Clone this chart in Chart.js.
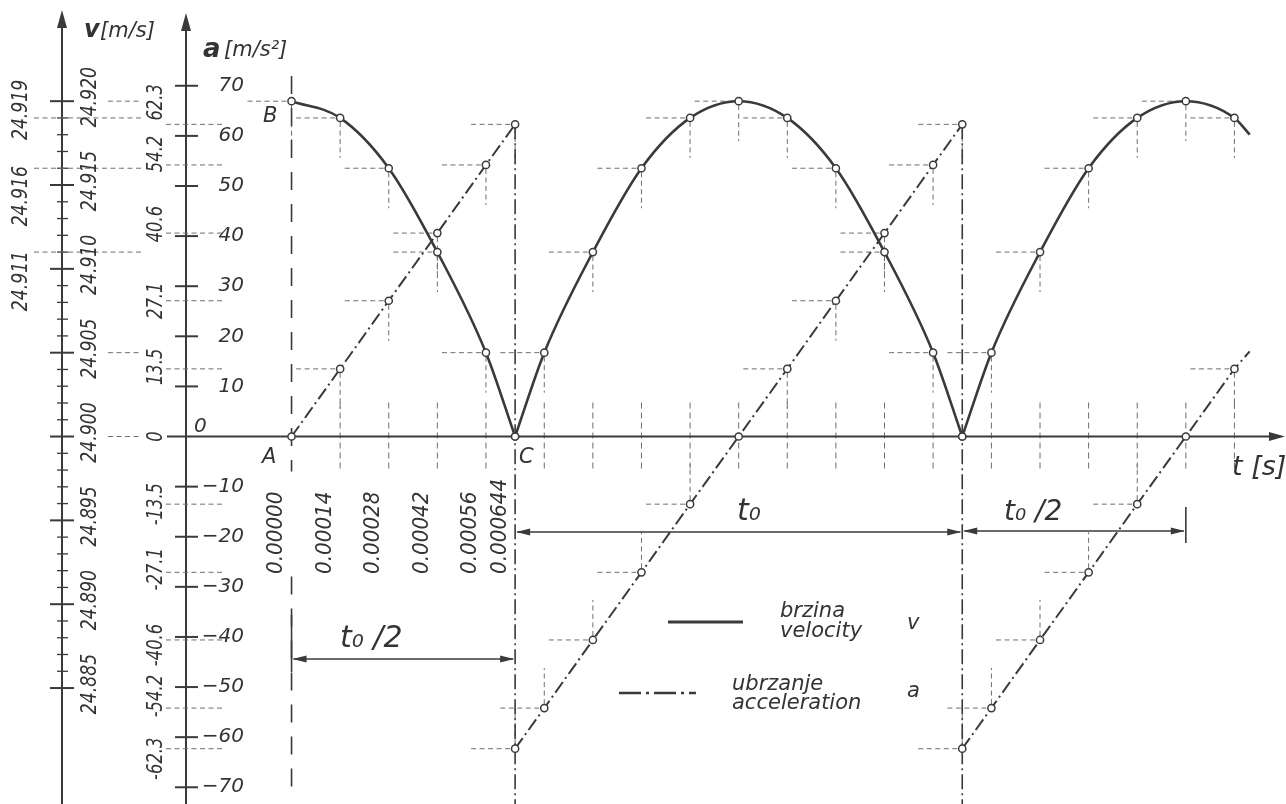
<!DOCTYPE html>
<html>
<head>
<meta charset="utf-8">
<script src="https://cdn.jsdelivr.net/npm/chart.js@4.4.1/dist/chart.umd.min.js"></script>
<style>
  html, body { margin: 0; padding: 0; background: #fff; }
  #wrap { width: 1286px; height: 804px; }
</style>
</head>
<body>
<div id="wrap"><canvas id="chart" width="1286" height="804"></canvas></div>
<script>
// vrijeme [s] - tocke ocitane s crteza
const tHalf = [0.00000, 0.00014, 0.00028, 0.00042, 0.00056, 0.000644];
const tPeriod = [0.000644, 0.000728, 0.000868, 0.001008, 0.001148, 0.001288,
                 0.001428, 0.001568, 0.001708, 0.001848, 0.001932];
const tNext = [0.001932, 0.002016, 0.002156, 0.002296, 0.002436, 0.002576, 0.002716, 0.00276];

// brzina v [m/s]
const vHalf = [24.920, 24.919, 24.916, 24.911, 24.905, 24.900];
const vPeriod = [24.900, 24.905, 24.911, 24.916, 24.919, 24.920, 24.919, 24.916, 24.911, 24.905, 24.900];
const vNext = [24.900, 24.905, 24.911, 24.916, 24.919, 24.920, 24.919, 24.918];

// ubrzanje a [m/s2]
const aHalf = [0, 13.5, 27.1, 40.6, 54.2, 62.3];
const aPeriod = [-62.3, -54.2, -40.6, -27.1, -13.5, 0, 13.5, 27.1, 40.6, 54.2, 62.3];
const aNext = [-62.3, -54.2, -40.6, -27.1, -13.5, 0, 13.5, 17.0];

// oznake osi
const tLabels = ['0.00000', '0.00014', '0.00028', '0.00042', '0.00056', '0.000644'];
const vTicks = [24.920, 24.915, 24.910, 24.905, 24.900, 24.895, 24.890, 24.885];
const vMarked = [24.919, 24.916, 24.911];
const aTicks = [70, 60, 50, 40, 30, 20, 10, -10, -20, -30, -40, -50, -60, -70];
const aMarked = [62.3, 54.2, 40.6, 27.1, 13.5, 0, -13.5, -27.1, -40.6, -54.2, -62.3];

const INK = '#3a3a3a';
const GUIDE = '#6e6e6e';
const TEXT = '#333';

const pts = (ts, ys) => ts.map((t, i) => ({ x: t, y: ys[i] }));

function seg(ctx, x1, y1, x2, y2, w, dash, color) {
    ctx.save();
    ctx.strokeStyle = color || INK;
    ctx.lineWidth = w;
    ctx.setLineDash(dash || []);
    ctx.beginPath();
    ctx.moveTo(x1, y1);
    ctx.lineTo(x2, y2);
    ctx.stroke();
    ctx.restore();
}

// vrh strelice u (x,y), smjer (dx,dy)
function arrow(ctx, x, y, dx, dy, len, half) {
    ctx.save();
    ctx.fillStyle = INK;
    ctx.beginPath();
    ctx.moveTo(x, y);
    ctx.lineTo(x - dx * len - dy * half, y - dy * len + dx * half);
    ctx.lineTo(x - dx * len + dy * half, y - dy * len - dx * half);
    ctx.closePath();
    ctx.fill();
    ctx.restore();
}

function label(ctx, s, x, y, o) {
    ctx.save();
    ctx.translate(x, y);
    if (o.rot) ctx.rotate(-Math.PI / 2);
    ctx.scale(o.squeeze || 1, 1);
    ctx.font = (o.weight || '') + ' italic ' + o.size + 'px "DejaVu Sans", sans-serif';
    ctx.fillStyle = TEXT;
    ctx.textAlign = o.align || 'left';
    ctx.textBaseline = o.baseline || 'alphabetic';
    ctx.fillText(s, 0, 0);
    ctx.restore();
}

const vAxisX = 62;
const aAxisX = 186;

const drawing = {
    id: 'drawing',
    beforeDatasetsDraw(chart) {
        const ctx = chart.ctx;
        const X = t => chart.scales.x.getPixelForValue(t);
        const A = a => chart.scales.a.getPixelForValue(a);
        const V = v => chart.scales.v.getPixelForValue(v);
        const y0 = A(0);

        // pomocne crtkane linije uz tocke
        chart.data.datasets.forEach((ds, i) => {
            const meta = chart.getDatasetMeta(i);
            meta.data.forEach((el, j) => {
                if (j === ds.data.length - 1 && ds.openEnd) return;
                if (Math.abs(el.y - y0) < 2) return;
                seg(ctx, el.x - 44, el.y, el.x - 4, el.y, 1, [5, 3.5], GUIDE);
                const dir = el.y < y0 ? 1 : -1;
                seg(ctx, el.x, el.y + 4 * dir, el.x, el.y + 40 * dir, 1, [5, 3.5], GUIDE);
            });
        });

        // crtice na osi t
        const all = [...tHalf, ...tPeriod, ...tNext.slice(0, -1)];
        const skip = [tHalf[0], tHalf[tHalf.length - 1], tPeriod[tPeriod.length - 1]];
        [...new Set(all)].filter(t => !skip.includes(t)).forEach(t => {
            seg(ctx, X(t), y0 - 34, X(t), y0 + 35, 1, [6, 4], GUIDE);
        });

        // okomica kroz A
        const xA = X(tHalf[0]);
        seg(ctx, xA, 76, xA, y0 + 35, 1.6, [18, 14]);
        seg(ctx, xA, y0 + 140, xA, 790, 1.6, [18, 14]);
        seg(ctx, xA, 615, xA, 672, 1.6);

        // okomice kroz C (skok ubrzanja)
        [tPeriod[0], tPeriod[tPeriod.length - 1]].forEach(t => {
            seg(ctx, X(t), A(62.3), X(t), 804, 1.6, [15, 4, 2, 4]);
        });

        // os t
        seg(ctx, 167, y0, 1272, y0, 2);
        // os v
        seg(ctx, vAxisX, 24, vAxisX, 804, 2);
        // os a
        seg(ctx, aAxisX, 26, aAxisX, 804, 2);

        // crtice osi v
        for (let k = 0; k <= 35; k++) {
            const v = 24.885 + k * 0.001;
            const y = V(v);
            const major = k % 5 === 0;
            seg(ctx, vAxisX - (major ? 12 : 5), y, vAxisX + (major ? 12 : 6), y, major ? 2 : 1.3);
        }
        // crtice osi a
        aTicks.forEach(a => seg(ctx, aAxisX - 11, A(a), aAxisX + 12, A(a), 2));

        // crtkane linije za vrijednosti
        vMarked.forEach(v => seg(ctx, 34, V(v), 142, V(v), 1, [5, 3.5], GUIDE));
        [24.920, 24.905, 24.900].forEach(v => seg(ctx, 108, V(v), 142, V(v), 1, [5, 3.5], GUIDE));
        aMarked.filter(a => a !== 0).forEach(a => seg(ctx, 166, A(a), 224, A(a), 1, [5, 3.5], GUIDE));
    },
    afterDatasetsDraw(chart) {
        const ctx = chart.ctx;
        const X = t => chart.scales.x.getPixelForValue(t);
        const A = a => chart.scales.a.getPixelForValue(a);
        const V = v => chart.scales.v.getPixelForValue(v);
        const y0 = A(0);

        // strelice osi
        arrow(ctx, 1285, y0, 1, 0, 16, 4.5);
        arrow(ctx, vAxisX, 10, 0, -1, 18, 5);
        arrow(ctx, aAxisX, 13, 0, -1, 18, 5);

        // nazivi osi
        label(ctx, 'v', 84, 37, { size: 24, weight: 'bold' });
        label(ctx, '[m/s]', 100, 37, { size: 21 });
        label(ctx, 'a', 203, 57, { size: 26, weight: 'bold' });
        label(ctx, '[m/s²]', 224, 56, { size: 21 });
        label(ctx, 't [s]', 1232, 475, { size: 27 });

        // oznake osi v
        vTicks.forEach(v => label(ctx, v.toFixed(3), 91, V(v) - 4,
            { size: 21, rot: true, align: 'center', baseline: 'middle', squeeze: 0.82 }));
        const vNudge = [-8, 28, 29];
        vMarked.forEach((v, i) => label(ctx, v.toFixed(3), 22, V(v) + vNudge[i],
            { size: 21, rot: true, align: 'center', baseline: 'middle', squeeze: 0.82 }));

        // oznake osi a
        aTicks.forEach(a => label(ctx, (a < 0 ? '−' : '') + Math.abs(a), 244, A(a),
            { size: 20, align: 'right', baseline: 'middle' }));
        label(ctx, '0', 194, 432, { size: 20 });
        const aNudge = [-22, -11, -9, 0, -2, 0, 0, -3, 5, -12, 10];
        aMarked.forEach((a, i) => label(ctx, (a < 0 ? '-' : '') + Math.abs(a), 157, A(a) + aNudge[i],
            { size: 21, rot: true, align: 'center', baseline: 'middle', squeeze: 0.78 }));

        // oznake vremena
        tLabels.forEach((s, i) => label(ctx, s, X(tHalf[i]) - 15, 574,
            { size: 21, rot: true, baseline: 'middle', squeeze: 0.95 }));

        // tocke A, B, C
        label(ctx, 'A', 262, 463, { size: 21 });
        label(ctx, 'B', 263, 122, { size: 21 });
        label(ctx, 'C', 519, 463, { size: 21 });

        // kotne linije
        const dim = (t1, t2, y) => {
            seg(ctx, X(t1) + 2, y, X(t2) - 2, y, 1.6);
            arrow(ctx, X(t1) + 1, y, -1, 0, 14, 3.5);
            arrow(ctx, X(t2) - 1, y, 1, 0, 14, 3.5);
        };
        dim(tHalf[0], tHalf[tHalf.length - 1], 659);
        dim(tPeriod[0], tPeriod[tPeriod.length - 1], 532);
        dim(tNext[0], tNext[5], 531);
        seg(ctx, X(tNext[5]), 507, X(tNext[5]), 543, 1.6);
        label(ctx, 't₀ /2', 340, 647, { size: 30 });
        label(ctx, 't₀', 737, 520, { size: 30 });
        label(ctx, 't₀ /2', 1004, 520, { size: 28 });

        // legenda
        seg(ctx, 668, 622, 743, 622, 3);
        seg(ctx, 619, 693, 696, 693, 2.6, [22, 5, 3, 5]);
        label(ctx, 'brzina', 780, 617, { size: 21 });
        label(ctx, 'velocity', 780, 637, { size: 21 });
        label(ctx, 'v', 907, 629, { size: 21 });
        label(ctx, 'ubrzanje', 732, 690, { size: 21 });
        label(ctx, 'acceleration', 732, 709, { size: 21 });
        label(ctx, 'a', 907, 697, { size: 21 });
    }
};

const lastHidden = n => ctx => (ctx.dataIndex === n - 1 ? 0 : 3.6);

const velocityStyle = {
    yAxisID: 'v',
    borderColor: INK,
    borderWidth: 2.6,
    cubicInterpolationMode: 'monotone',
    pointRadius: 3.6,
    pointBackgroundColor: '#fff',
    pointBorderColor: INK,
    pointBorderWidth: 1.5
};
const accelStyle = {
    yAxisID: 'a',
    borderColor: INK,
    borderWidth: 2,
    borderDash: [13, 4, 2, 4],
    tension: 0,
    pointRadius: 3.6,
    pointBackgroundColor: '#fff',
    pointBorderColor: INK,
    pointBorderWidth: 1.5
};

new Chart(document.getElementById('chart'), {
    type: 'line',
    data: {
        datasets: [
            { ...velocityStyle, label: 'brzina v', data: pts(tHalf, vHalf) },
            { ...velocityStyle, label: 'brzina v', data: pts(tPeriod, vPeriod) },
            { ...velocityStyle, label: 'brzina v', data: pts(tNext, vNext),
              openEnd: true, pointRadius: lastHidden(tNext.length) },
            { ...accelStyle, label: 'ubrzanje a', data: pts(tHalf, aHalf) },
            { ...accelStyle, label: 'ubrzanje a', data: pts(tPeriod, aPeriod) },
            { ...accelStyle, label: 'ubrzanje a', data: pts(tNext, aNext),
              openEnd: true, pointRadius: lastHidden(tNext.length) }
        ]
    },
    options: {
        responsive: false,
        animation: false,
        layout: { padding: 0 },
        plugins: { legend: { display: false }, tooltip: { enabled: false } },
        scales: {
            x: { type: 'linear', min: -0.00082392, max: 0.0028487, display: false },
            a: { type: 'linear', min: -72.24, max: 86.02, display: false },
            v: { type: 'linear', min: 24.878412, max: 24.925706, display: false }
        }
    },
    plugins: [drawing]
});
</script>
</body>
</html>
